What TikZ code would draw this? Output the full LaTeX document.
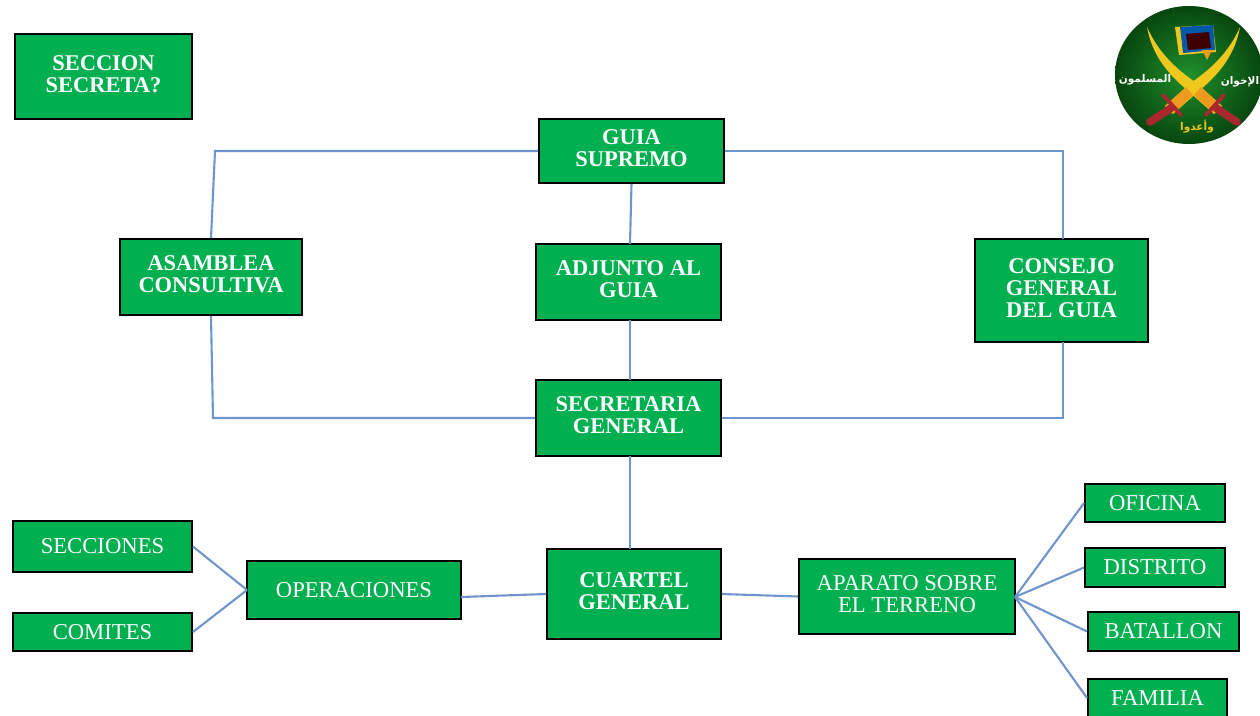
\documentclass[tikz,border=0pt]{standalone}
\usepackage{xcolor}
\usepackage{fontspec}
\setmainfont{Liberation Serif}
\newfontfamily\arabicfont[Script=Arabic]{DejaVu Sans}
\TeXXeTstate=1
\definecolor{boxgreen}{HTML}{00AF50}
\definecolor{linkblue}{HTML}{6F95CC}
\definecolor{logogreen}{HTML}{1F8F2A}
\definecolor{logodark}{HTML}{07460F}
\definecolor{swordgold}{HTML}{EFC81E}
\definecolor{swordorange}{HTML}{EE9A1C}
\definecolor{hiltred}{HTML}{A8282E}
\tikzset{
    smallbox/.style={rectangle, draw=black, line width=1.1pt, fill=boxgreen, text=white, align=center, inner sep=0pt,
        font=\fontsize{12.9}{12.6}\selectfont},
    raised/.style={execute at end node={\rule[-3pt]{0pt}{3pt}}},
    unitbox/.style={smallbox, raised, font=\fontsize{12.8}{12.5}\selectfont\bfseries},
    link/.style={draw=linkblue, line width=1.2pt},
    sword/.style={fill=swordgold, draw=none},
    hilt/.style={draw=hiltred, line cap=round},
    logotext/.style={inner sep=0pt, text=white, font=\arabicfont\bfseries\fontsize{6}{7}\selectfont}
}
\begin{document}
\begin{tikzpicture}[x=0.02cm, y=-0.02cm]
    \useasboundingbox (0, 0) rectangle (1260, 716);
    % boxes
    \node (seccion) at (103.5, 76.5) [unitbox, minimum width=3.54cm, minimum height=1.7cm] {SECCION\\SECRETA?};
    \node (guia) at (631.5, 151) [unitbox, minimum width=3.7cm, minimum height=1.28cm] {GUIA\\SUPREMO};
    \node (asamblea) at (211, 277) [unitbox, minimum width=3.64cm, minimum height=1.52cm] {ASAMBLEA\\CONSULTIVA};
    \node (adjunto) at (628.5, 282) [unitbox, minimum width=3.7cm, minimum height=1.52cm] {ADJUNTO AL\\GUIA};
    \node (consejo) at (1061.5, 290.5) [unitbox, minimum width=3.46cm, minimum height=2.06cm] {CONSEJO\\GENERAL\\DEL GUIA};
    \node (secretaria) at (628.5, 418) [unitbox, minimum width=3.7cm, minimum height=1.52cm] {SECRETARIA\\GENERAL};
    \node (cuartel) at (634, 594) [unitbox, minimum width=3.48cm, minimum height=1.8cm] {CUARTEL\\GENERAL};
    \node (operaciones) at (354, 590) [smallbox, minimum width=4.28cm, minimum height=1.16cm] {OPERACIONES};
    \node (aparato) at (907, 596.5) [smallbox, raised, minimum width=4.32cm, minimum height=1.5cm] {APARATO SOBRE\\EL TERRENO};
    \node (secciones) at (102.5, 546.5) [smallbox, minimum width=3.58cm, minimum height=1.02cm] {SECCIONES};
    \node (comites) at (102.5, 632) [smallbox, minimum width=3.58cm, minimum height=0.76cm] {COMITES};
    \node (oficina) at (1155, 503) [smallbox, minimum width=2.8cm, minimum height=0.76cm] {OFICINA};
    \node (distrito) at (1155, 567.5) [smallbox, minimum width=2.8cm, minimum height=0.78cm] {DISTRITO};
    \node (batallon) at (1163.5, 631.5) [smallbox, minimum width=3.02cm, minimum height=0.78cm] {BATALLON};
    \node (familia) at (1157.5, 698) [smallbox, minimum width=2.78cm, minimum height=0.76cm] {FAMILIA};
    % ends and bends of the links
    \coordinate (topleft) at (215, 151);
    \coordinate (topright) at (1063, 151);
    \coordinate (lowleft) at (213, 418);
    \coordinate (lowright) at (1063, 418);
    \coordinate (consejotop) at (1063, 239);
    \coordinate (consejolow) at (1063, 342);
    \coordinate (adjuntotop) at (630, 244);
    \coordinate (adjuntolow) at (630, 320);
    \coordinate (secretop) at (630, 380);
    \coordinate (secrelow) at (630, 456);
    \coordinate (cuarteltop) at (630, 549);
    \coordinate (opsout) at (461, 597);
    \coordinate (fan) at (1015, 597);
    \coordinate (opsin) at (247, 590);
    % links
    \draw [link] (guia.west) -- (topleft) -- (asamblea.north);
    \draw [link] (guia.east) -- (topright) -- (consejotop);
    \draw [link] (asamblea.south) -- (lowleft) -- (secretaria.west);
    \draw [link] (consejolow) -- (lowright) -- (secretaria.east);
    \draw [link] (guia.south) -- (adjuntotop);
    \draw [link] (adjuntolow) -- (secretop);
    \draw [link] (secrelow) -- (cuarteltop);
    \draw [link] (opsout) -- (cuartel.west);
    \draw [link] (cuartel.east) -- (aparato.west);
    \draw [link] (secciones.east) -- (opsin);
    \draw [link] (comites.east) -- (opsin);
    \draw [link] (fan) -- (oficina.west);
    \draw [link] (fan) -- (distrito.west);
    \draw [link] (fan) -- (batallon.west);
    \draw [link] (fan) -- (familia.west);
    % logo
    \shade [inner color=logogreen, outer color=logodark] (1189, 75) ellipse [x radius=74, y radius=69];
    \fill [fill=swordgold] (1175, 27) -- (1213, 25) -- (1216, 52) -- (1179, 55) -- cycle;
    \fill [fill=teal!70!blue] (1180, 27) -- (1213, 25) -- (1215, 50) -- (1183, 53) -- cycle;
    \fill [fill=black!75!red] (1186, 34) -- (1209, 32) -- (1211, 48) -- (1188, 50) -- cycle;
    \fill [fill=swordorange] (1202, 50) -- (1212, 50) -- (1207, 60) -- cycle;
    \fill [sword] (1147, 27) .. controls (1158, 52) and (1175, 68) .. (1195, 82) -- (1222, 106) -- (1214, 114) -- (1187, 90) .. controls (1168, 74) and (1152, 55) .. cycle;
    \fill [sword] (1240, 27) .. controls (1229, 52) and (1212, 68) .. (1192, 82) -- (1165, 106) -- (1173, 114) -- (1200, 90) .. controls (1219, 74) and (1235, 55) .. cycle;
    \fill [fill=swordorange] (1201, 87) -- (1222, 106) -- (1214, 114) -- (1194, 95) -- cycle;
    \fill [fill=swordorange] (1186, 87) -- (1165, 106) -- (1173, 114) -- (1193, 95) -- cycle;
    \draw [hilt, line width=4.4pt] (1216, 108) -- (1237, 122);
    \draw [hilt, line width=4.4pt] (1171, 108) -- (1150, 122);
    \draw [hilt, line width=2.2pt] (1224, 95) -- (1206, 115);
    \draw [hilt, line width=2.2pt] (1163, 95) -- (1181, 115);
    \node (ikhwan) at (1240, 82) [logotext] {\beginR الإخوان\endR};
    \node (muslimun) at (1145, 80) [logotext] {\beginR المسلمون\endR};
    \node (waaiddu) at (1197, 127) [logotext, text=swordgold] {\beginR وأعدوا\endR};
\end{tikzpicture}
\end{document}
